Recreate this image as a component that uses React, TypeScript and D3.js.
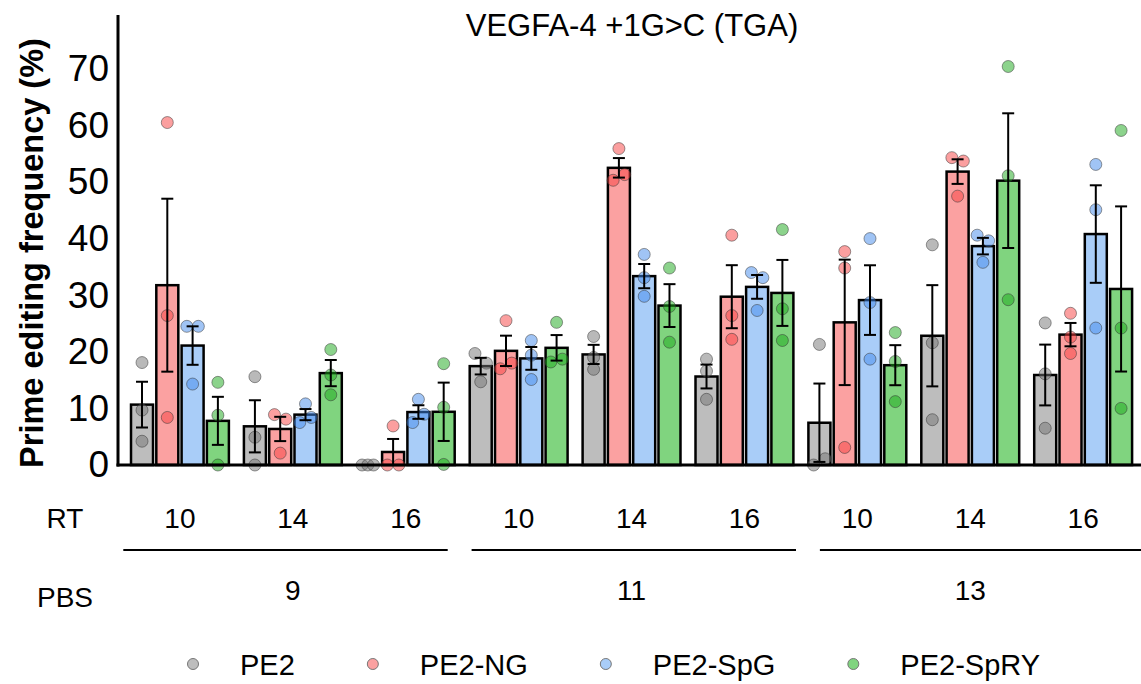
import React, { useEffect, useRef } from "react";
import * as d3 from "d3";

const W = 1141;
const H = 684;

const SERIES = ["PE2", "PE2-NG", "PE2-SpG", "PE2-SpRY"];
const PBS = ["9", "11", "13"];
const RT = ["10", "14", "16"];
const Y_TICKS = [0, 10, 20, 30, 40, 50, 60, 70];

// replicate values per group (PBS 9: RT 10/14/16, PBS 11: ..., PBS 13: ...)
const pe2Reps = [
  [18.1, 9.7, 4.2],
  [15.6, 4.9, 0],
  [0, 0, 0],
  [19.7, 18.0, 14.7],
  [22.7, 19.0, 16.9],
  [18.7, 16.6, 11.6],
  [21.3, 0, 1.1],
  [38.9, 21.6, 8.0],
  [25.1, 16.1, 6.5],
];
const ngReps = [
  [60.5, 26.4, 8.4],
  [8.9, 8.1, 2.1],
  [6.9, 0, 0],
  [25.5, 17.0, 18.0],
  [55.9, 50.3, 51.3],
  [40.6, 26.4, 22.2],
  [37.7, 34.8, 3.1],
  [54.3, 53.7, 47.5],
  [26.8, 22.6, 19.7],
];
const spgReps = [
  [24.5, 24.5, 14.3],
  [7.5, 8.4, 10.8],
  [7.5, 8.96, 11.6],
  [22.0, 19.4, 15.1],
  [37.2, 33.1, 29.8],
  [34.0, 33.1, 27.3],
  [40.0, 28.7, 18.7],
  [40.6, 39.6, 35.8],
  [53.1, 45.1, 24.2],
];
const spryReps = [
  [14.6, 8.8, 0],
  [20.4, 15.9, 12.4],
  [17.9, 10.2, 0.1],
  [25.2, 18.2, 18.7],
  [34.8, 28.0, 21.7],
  [41.6, 27.6, 22.0],
  [23.4, 18.3, 11.2],
  [70.4, 51.1, 29.2],
  [59.1, 24.2, 10.0],
];

const BAR_FILL = ["#bdbdbd", "#fba1a1", "#a9cdf8", "#80d47f"];
const DOT_FILL = ["#737373", "#f84040", "#4189ec", "#19a819"];
const FONT = "'Liberation Sans', Arial, sans-serif";

function App() {
  const ref = useRef<SVGSVGElement>(null);

  useEffect(() => {
    const allReps = [pe2Reps, ngReps, spgReps, spryReps];
    const groups = PBS.flatMap((p) => RT.map((r) => `${p}-${r}`));

    const svg = d3.select(ref.current);
    svg.selectAll("*").remove();

    const y = d3.scaleLinear().domain([0, 79.5]).range([465, 15]);
    const x0 = d3
      .scaleBand()
      .domain(groups)
      .range([123.5, 1139.6])
      .paddingInner(0.133)
      .paddingOuter(0.0665);
    const x1 = d3
      .scaleBand()
      .domain(SERIES)
      .range([0, x0.bandwidth()])
      .paddingInner(0.13);
    const xPbs = d3
      .scaleBand()
      .domain(PBS)
      .range([123.3, 1144.3])
      .paddingInner(0.0686);

    // title
    svg
      .append("text")
      .attr("x", 632)
      .attr("y", 36)
      .attr("text-anchor", "middle")
      .style("font", `31px ${FONT}`)
      .text("VEGFA-4 +1G>C (TGA)");

    // y axis labels
    const yAxis = svg
      .append("g")
      .attr("transform", "translate(118,0)")
      .call(d3.axisLeft(y).tickValues(Y_TICKS).tickSize(0).tickPadding(9));
    yAxis.select(".domain").remove();
    yAxis
      .selectAll("text")
      .style("font", `37px ${FONT}`)
      .attr("fill", "#000");

    svg
      .append("text")
      .attr("transform", `translate(43,253) rotate(-90)`)
      .attr("text-anchor", "middle")
      .style("font", `bold 32.5px ${FONT}`)
      .text("Prime editing frequency (%)");

    const stats = SERIES.map((s, si) =>
      groups.map((g, gi) => {
        const vals = allReps[si][gi];
        const mean = d3.mean(vals) as number;
        const sem = (d3.deviation(vals) || 0) / Math.sqrt(vals.length);
        return { s, si, g, gi, vals, mean, sem };
      })
    ).flat();

    // bars
    svg
      .append("g")
      .selectAll("rect")
      .data(stats)
      .join("rect")
      .attr("x", (d) => (x0(d.g) as number) + (x1(d.s) as number))
      .attr("y", (d) => y(d.mean))
      .attr("width", x1.bandwidth())
      .attr("height", (d) => y(0) - y(d.mean))
      .attr("fill", (d) => BAR_FILL[d.si])
      .attr("stroke", "#000")
      .attr("stroke-width", 2.5);

    // dots, spread sideways when they overlap
    const dots: { cx: number; cy: number; si: number }[] = [];
    stats.forEach((d) => {
      const cx = (x0(d.g) as number) + (x1(d.s) as number) + x1.bandwidth() / 2;
      const order = d.vals
        .map((_, i) => i)
        .sort((a, b) => d.vals[b] - d.vals[a] || a - b);
      const clusters: number[][] = [];
      let cur = [order[0]];
      for (let k = 1; k < order.length; k++) {
        if (y(d.vals[order[k]]) - y(d.vals[order[k - 1]]) < 11) cur.push(order[k]);
        else {
          clusters.push(cur);
          cur = [order[k]];
        }
      }
      clusters.push(cur);
      clusters.forEach((c) => {
        const members = c.slice().sort((a, b) => a - b);
        const n = members.length;
        members.forEach((i, j) => {
          const off = n > 1 ? -5.75 + (j * 11.5) / (n - 1) : 0;
          dots.push({ cx: cx + off, cy: y(d.vals[i]), si: d.si });
        });
      });
    });
    svg
      .append("g")
      .selectAll("circle")
      .data(dots)
      .join("circle")
      .attr("cx", (d) => d.cx)
      .attr("cy", (d) => d.cy)
      .attr("r", 6)
      .attr("fill", (d) => DOT_FILL[d.si])
      .attr("fill-opacity", 0.5)
      .attr("stroke", "#333")
      .attr("stroke-opacity", 0.5)
      .attr("stroke-width", 1);

    // error bars
    const eb = svg.append("g").attr("stroke", "#000").attr("stroke-width", 2);
    stats.forEach((d) => {
      const cx = (x0(d.g) as number) + (x1(d.s) as number) + x1.bandwidth() / 2;
      const hi = y(d.mean + d.sem);
      const lo = y(Math.max(0, d.mean - d.sem));
      eb.append("line").attr("x1", cx).attr("x2", cx).attr("y1", hi).attr("y2", lo);
      eb.append("line").attr("x1", cx - 6).attr("x2", cx + 6).attr("y1", hi).attr("y2", hi);
      eb.append("line").attr("x1", cx - 6).attr("x2", cx + 6).attr("y1", lo).attr("y2", lo);
    });

    // axis lines
    svg
      .append("line")
      .attr("x1", 118)
      .attr("x2", 118)
      .attr("y1", 15)
      .attr("y2", y(0) + 1.5)
      .attr("stroke", "#000")
      .attr("stroke-width", 3);
    svg
      .append("line")
      .attr("x1", 116.5)
      .attr("x2", W)
      .attr("y1", y(0))
      .attr("y2", y(0))
      .attr("stroke", "#000")
      .attr("stroke-width", 3);

    // RT row
    const lab = svg.append("g").style("font", `28px ${FONT}`).attr("text-anchor", "middle");
    lab.append("text").attr("x", 65).attr("y", 528).text("RT");
    groups.forEach((g, gi) => {
      lab
        .append("text")
        .attr("x", (x0(g) as number) + x0.bandwidth() / 2)
        .attr("y", 528)
        .text(RT[gi % 3]);
    });

    // PBS lines and labels
    PBS.forEach((p, pi) => {
      svg
        .append("line")
        .attr("x1", xPbs(p) as number)
        .attr("x2", (xPbs(p) as number) + xPbs.bandwidth())
        .attr("y1", 550)
        .attr("y2", 550)
        .attr("stroke", "#000")
        .attr("stroke-width", 2);
      const mid = groups[pi * 3 + 1];
      lab
        .append("text")
        .attr("x", (x0(mid) as number) + x0.bandwidth() / 2)
        .attr("y", 600)
        .text(p);
    });
    lab.append("text").attr("x", 65).attr("y", 607).text("PBS");

    // legend
    const leg = svg.append("g");
    let lx = 193;
    SERIES.forEach((s, si) => {
      leg
        .append("circle")
        .attr("cx", lx)
        .attr("cy", 664)
        .attr("r", 5.5)
        .attr("fill", BAR_FILL[si])
        .attr("stroke", "#777")
        .attr("stroke-width", 1);
      const t = leg
        .append("text")
        .attr("x", lx + 47)
        .attr("y", 675)
        .style("font", `29px ${FONT}`)
        .text(s);
      const w = (t.node() as SVGTextElement).getComputedTextLength();
      lx = lx + 47 + w + 78;
    });
  }, []);

  return (
    <svg
      ref={ref}
      width={W}
      height={H}
      style={{ position: "absolute", left: 0, top: 0, background: "#fff" }}
    />
  );
}

export default App;
